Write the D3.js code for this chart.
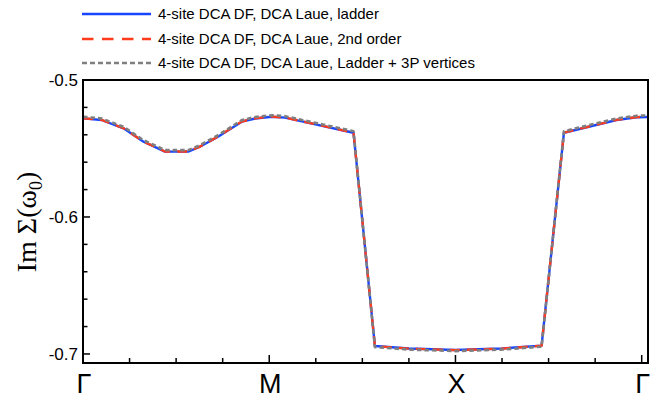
<!DOCTYPE html>
<html><head><meta charset="utf-8">
<script src="https://cdn.jsdelivr.net/npm/d3@7"></script>
<style>body{margin:0;background:#fff}svg{display:block}</style>
</head><body>
<svg id="c" width="660" height="396"></svg>
<script>
// k-path position (index units: Γ=0, M=4, X=8, Γ=12)
const kpos = [0, 0.40, 0.87, 1.30, 1.76, 2.26, 2.50, 2.90, 3.41, 3.70, 4.05, 4.34, 5.81, 6.27, 7.00, 8.00, 9.00, 9.85, 10.33, 11.46, 11.89, 12.14];
const ladder = [-0.5280, -0.5292, -0.5353, -0.5450, -0.5523, -0.5523, -0.5489, -0.5414, -0.5304, -0.5281, -0.5268, -0.5275, -0.5385, -0.6942, -0.6960, -0.6971, -0.6960, -0.6939, -0.5385, -0.5292, -0.5272, -0.5270];
const second = [-0.5279, -0.5291, -0.5352, -0.5449, -0.5522, -0.5522, -0.5488, -0.5413, -0.5303, -0.5280, -0.5267, -0.5274, -0.5384, -0.6943, -0.6961, -0.6972, -0.6961, -0.6940, -0.5384, -0.5291, -0.5271, -0.5269];
const ladder3P = [-0.5268, -0.5281, -0.5342, -0.5439, -0.5512, -0.5512, -0.5478, -0.5403, -0.5293, -0.5270, -0.5257, -0.5264, -0.5374, -0.6950, -0.6968, -0.6979, -0.6968, -0.6947, -0.5374, -0.5281, -0.5261, -0.5259];
const seriesNames = ["4-site DCA DF, DCA Laue, ladder", "4-site DCA DF, DCA Laue, 2nd order", "4-site DCA DF, DCA Laue, Ladder + 3P vertices"];
const kLabels = ["Γ", "M", "X", "Γ"];
const kLabelPos = [0, 4, 8, 12];
const yMajor = [-0.7, -0.6, -0.5];
const yTickLabels = ["-0.7", "-0.6", "-0.5"];

const svg = d3.select("#c");
const L = 83, R = 648, T = 80, B = 363;
const x = d3.scaleLinear().domain([0, 12.14]).range([L, L + (641.7 - 83) * 12.14 / 12]);
const y = d3.scaleLinear().domain([-0.7066, -0.5]).range([B, T]);

const styles = [
  {color: "#1846ff", dash: null, w: 2.4},
  {color: "#ff3b1c", dash: "10,7", w: 2.4},
  {color: "#7f7f7f", dash: "4.5,3", w: 2.6}
];
const data = [ladder, second, ladder3P];
const line = d3.line().x((d, i) => x(kpos[i])).y(d => y(d));

const g = svg.append("g");
data.forEach((s, i) => {
  g.append("path").attr("d", line(s)).attr("fill", "none")
    .attr("stroke", styles[i].color).attr("stroke-width", styles[i].w)
    .attr("stroke-dasharray", styles[i].dash).attr("stroke-linejoin", "round");
});

// frame
svg.append("rect").attr("x", L).attr("y", T).attr("width", R - L).attr("height", B - T)
  .attr("fill", "none").attr("stroke", "#000").attr("stroke-width", 2);

// x ticks (inward)
const xt = d3.range(0, 13);
svg.append("g").selectAll("line").data(xt).join("line")
  .attr("x1", d => x(d)).attr("x2", d => x(d))
  .attr("y1", B).attr("y2", d => B - (d % 4 === 0 ? 8 : 5))
  .attr("stroke", "#000").attr("stroke-width", 1.5);
svg.append("g").selectAll("text").data(kLabels).join("text")
  .attr("x", (d, i) => x(kLabelPos[i]) + 1).attr("y", 393)
  .attr("text-anchor", "middle").attr("font-family", "Liberation Sans, Arial, sans-serif")
  .attr("font-size", 27).text(d => d);

// y ticks (inward)
const yt = d3.range(0, 11).map(i => -0.7 + i * 0.02);
svg.append("g").selectAll("line").data(yt).join("line")
  .attr("x1", L).attr("x2", (d, i) => L + (i % 5 === 0 ? 7 : 4.5))
  .attr("y1", d => y(d)).attr("y2", d => y(d))
  .attr("stroke", "#000").attr("stroke-width", 1.5);
svg.append("g").selectAll("text").data(yMajor).join("text")
  .attr("x", 78).attr("y", d => y(d)).attr("dy", "0.36em")
  .attr("text-anchor", "end").attr("font-family", "Liberation Sans, Arial, sans-serif")
  .attr("font-size", 17).text((d, i) => yTickLabels[i]);

// y title
const yl = svg.append("text").attr("transform", "translate(36,222) rotate(-90)")
  .attr("text-anchor", "middle").attr("font-family", "Liberation Serif, Times New Roman, serif")
  .attr("font-size", 28);
yl.append("tspan").text("Im Σ(ω");
yl.append("tspan").attr("font-size", 18).attr("dy", 6).text("0");
yl.append("tspan").attr("dy", -6).text(")");

// legend
const lg = svg.append("g");
seriesNames.forEach((name, i) => {
  const yy = [14, 39, 63][i];
  lg.append("line").attr("x1", 82).attr("x2", 151).attr("y1", yy).attr("y2", yy)
    .attr("stroke", styles[i].color).attr("stroke-width", 2.6)
    .attr("stroke-dasharray", i === 1 ? "11.5,8.5" : (i === 2 ? "5,3" : null));
  lg.append("text").attr("x", 158).attr("y", yy).attr("dy", "0.36em")
    .attr("font-family", "Liberation Sans, Arial, sans-serif").attr("font-size", 15)
    .text(name);
});
</script>
</body></html>
